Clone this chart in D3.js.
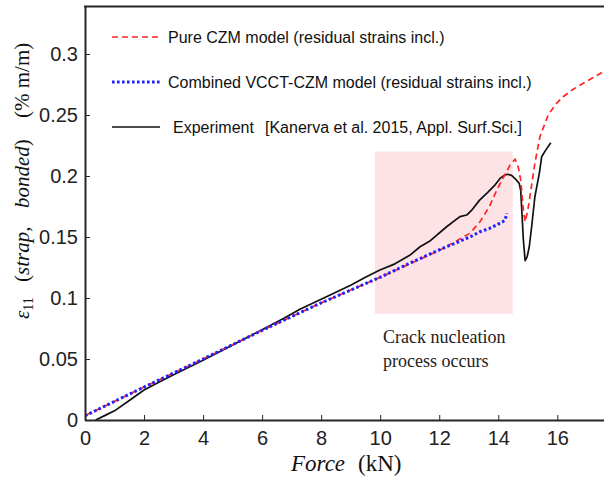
<!DOCTYPE html>
<html>
<head>
<meta charset="utf-8">
<script src="https://cdn.jsdelivr.net/npm/d3@7"></script>
<style>
  body { margin: 0; background: #fff; }
  svg { display: block; }
</style>
</head>
<body>
<svg id="chart" width="604" height="477"></svg>
<script>
// Strap strain against applied force: two FE models and the measured response.

// Pure CZM model
const czmForce  = [0, 2, 4, 6, 8, 10, 11, 12, 12.6, 13.04, 13.38, 13.7, 13.95, 14.2, 14.4, 14.57, 14.68, 14.76, 14.85, 14.91, 15.0, 15.07, 15.24, 15.41, 15.69, 15.95, 16.2, 16.5, 16.88, 17.2, 17.56, 18.0];
const czmStrain = [0.0035, 0.027, 0.050, 0.0735, 0.096, 0.117, 0.128, 0.139, 0.147, 0.153, 0.1625, 0.175, 0.1885, 0.200, 0.209, 0.2137, 0.207, 0.1967, 0.172, 0.1625, 0.172, 0.183, 0.2104, 0.2322, 0.250, 0.259, 0.265, 0.2705, 0.276, 0.2805, 0.2855, 0.291];

// Combined VCCT-CZM model
const vcctForce  = [0, 2, 4, 6, 8, 10, 11, 12, 12.6, 13.04, 13.38, 13.7, 13.95, 14.15, 14.23, 14.29];
const vcctStrain = [0.0035, 0.027, 0.050, 0.0735, 0.096, 0.117, 0.1285, 0.1395, 0.1455, 0.150, 0.1543, 0.157, 0.160, 0.1625, 0.164, 0.1694];

// Experiment
const expForce  = [0.36, 0.7, 1, 1.5, 2, 2.5, 3, 3.5, 4, 5, 6, 6.74, 7.28, 8, 9, 9.5, 9.99, 10.5, 11, 11.35, 11.7, 12.25, 12.7, 12.93, 13.1, 13.36, 13.66, 13.9, 14.06, 14.2, 14.31, 14.45, 14.6, 14.71, 14.76, 14.79, 14.85, 14.91, 14.98, 15.05, 15.13, 15.24, 15.39, 15.47, 15.6, 15.78];
const expStrain = [0, 0.004, 0.0075, 0.016, 0.0246, 0.031, 0.037, 0.043, 0.049, 0.0615, 0.074, 0.0834, 0.0907, 0.099, 0.1105, 0.117, 0.123, 0.128, 0.135, 0.142, 0.147, 0.1584, 0.1667, 0.168, 0.172, 0.180, 0.187, 0.193, 0.198, 0.2005, 0.2014, 0.2005, 0.197, 0.194, 0.188, 0.1748, 0.1475, 0.1306, 0.134, 0.142, 0.1584, 0.183, 0.2022, 0.2158, 0.221, 0.2273];

const xTicks = [0, 2, 4, 6, 8, 10, 12, 14, 16];
const yTicks = [0, 0.05, 0.1, 0.15, 0.2, 0.25, 0.3];
const yTickLabels = ["0", "0.05", "0.1", "0.15", "0.2", "0.25", "0.3"];

const legendLabels = [
  "Pure CZM model (residual strains incl.)",
  "Combined VCCT-CZM model (residual strains incl.)",
  "Experiment",
  "[Kanerva et al. 2015, Appl. Surf.Sci.]"
];

// Crack nucleation window
const nucleationForce = [9.82, 14.49];
const nucleationStrain = [0.087, 0.22];
const noteLines = ["Crack nucleation", "process occurs"];

const svg = d3.select("#chart");
const W = 604, H = 477;
const left = 85, bottom = 420;

const x = d3.scaleLinear().domain([0, 18]).range([left, left + 29.52 * 18]);
const y = d3.scaleLinear().domain([0, 0.339]).range([bottom, bottom - 1220 * 0.339]);

const sans = "'Liberation Sans', Arial, sans-serif";
const serif = "'Liberation Serif', 'Times New Roman', serif";
const axisColor = "#262626";

svg.append("defs").append("clipPath").attr("id", "plotArea")
  .append("rect").attr("x", left).attr("y", y(0.339)).attr("width", W - left).attr("height", bottom - y(0.339));

// shaded nucleation window
svg.append("rect")
  .attr("x", x(nucleationForce[0]))
  .attr("y", y(nucleationStrain[1]))
  .attr("width", x(nucleationForce[1]) - x(nucleationForce[0]))
  .attr("height", y(nucleationStrain[0]) - y(nucleationStrain[1]))
  .attr("fill", "#fde2e6");

// note under the window
noteLines.forEach((t, i) => {
  svg.append("text")
    .attr("x", 383).attr("y", 343 + i * 23.5)
    .attr("font-family", serif).attr("font-size", 18).attr("fill", "#222")
    .text(t);
});

const plot = svg.append("g").attr("clip-path", "url(#plotArea)");
const line = d3.line().x(d => x(d[0])).y(d => y(d[1]));

const expPts = expForce.map((f, i) => [f, expStrain[i]]);
const czmPts = czmForce.map((f, i) => [f, czmStrain[i]]);
const vcctPts = vcctForce.map((f, i) => [f, vcctStrain[i]]);

const styles = {
  exp:  { stroke: "#111", width: 1.7, dash: null },
  czm:  { stroke: "#ff2424", width: 1.7, dash: "6,4" },
  vcct: { stroke: "#2222ff", width: 3, dash: "2.6,2.4" }
};

plot.append("path").datum(expPts).attr("d", line)
  .attr("fill", "none").attr("stroke", styles.exp.stroke).attr("stroke-width", styles.exp.width)
  .attr("stroke-linejoin", "round");
plot.append("path").datum(czmPts).attr("d", line)
  .attr("fill", "none").attr("stroke", styles.czm.stroke).attr("stroke-width", styles.czm.width)
  .attr("stroke-dasharray", styles.czm.dash);
plot.append("path").datum(vcctPts).attr("d", line)
  .attr("fill", "none").attr("stroke", styles.vcct.stroke).attr("stroke-width", styles.vcct.width)
  .attr("stroke-dasharray", styles.vcct.dash);

// axes
const xAxis = d3.axisBottom(x).tickValues(xTicks).tickFormat(d3.format("d"))
  .tickSizeInner(-5).tickSizeOuter(0).tickPadding(11);
const gx = svg.append("g").attr("transform", `translate(0,${bottom})`).call(xAxis);
gx.selectAll("text").attr("font-family", sans).attr("font-size", 20).attr("fill", "#222");

const yAxis = d3.axisLeft(y).tickValues(yTicks).tickFormat((d, i) => yTickLabels[i])
  .tickSizeInner(-5).tickSizeOuter(0).tickPadding(7);
const gy = svg.append("g").attr("transform", `translate(${left},0)`).call(yAxis);
gy.selectAll("text").attr("font-family", sans).attr("font-size", 20).attr("fill", "#222");

[gx, gy].forEach(g => {
  g.select(".domain").attr("stroke", axisColor).attr("stroke-width", 2);
  g.selectAll(".tick line").attr("stroke", axisColor).attr("stroke-width", 1);
});
gx.select(".domain").attr("d", `M${left},0.5H${W}`);

// top border of the box
svg.append("line").attr("x1", left - 1).attr("x2", W).attr("y1", y(0.339)).attr("y2", y(0.339))
  .attr("stroke", axisColor).attr("stroke-width", 2);

// legend
const legendRows = [
  { key: "czm", y: 37, label: legendLabels[0], tx: 168 },
  { key: "vcct", y: 82, label: legendLabels[1], tx: 168 },
  { key: "exp", y: 127, label: legendLabels[2], tx: 173 }
];
legendRows.forEach(r => {
  const s = styles[r.key];
  svg.append("line").attr("x1", 112).attr("x2", 160).attr("y1", r.y).attr("y2", r.y)
    .attr("stroke", s.stroke).attr("stroke-width", s.width)
    .attr("stroke-dasharray", s.dash);
  svg.append("text").attr("x", r.tx).attr("y", r.y + 6)
    .attr("font-family", sans).attr("font-size", 16).attr("fill", "#111")
    .text(r.label);
});
svg.append("text").attr("x", 265).attr("y", 127 + 6)
  .attr("font-family", sans).attr("font-size", 16).attr("fill", "#111")
  .text(legendLabels[3]);

// x-axis title
const xt = svg.append("text").attr("x", 291).attr("y", 471)
  .attr("font-family", serif).attr("font-size", 23).attr("fill", "#111");
xt.append("tspan").attr("font-style", "italic").text("Force");
svg.append("text").attr("x", 358).attr("y", 471)
  .attr("font-family", serif).attr("font-size", 23).attr("fill", "#111").text("(kN)");

// y-axis title, rotated; pieces placed along the axis
const yt = svg.append("g").attr("transform", "translate(29,0) rotate(-90)");
const yPiece = (pos, parts) => {
  const t = yt.append("text").attr("x", -pos).attr("y", 0)
    .attr("font-family", serif).attr("font-size", 21).attr("fill", "#111");
  parts.forEach(p => {
    const ts = t.append("tspan").text(p.t);
    if (p.i) ts.attr("font-style", "italic");
    if (p.sub) ts.attr("font-size", 14).attr("dy", 4);
  });
};
yPiece(319, [{ t: "ε", i: true }, { t: "11", sub: true }]);
yPiece(282, [{ t: "(" }, { t: "strap,", i: true }]);
yPiece(208, [{ t: "bonded", i: true }, { t: ")" }]);
yPiece(118, [{ t: "(% m/m)" }]);
</script>
</body>
</html>
